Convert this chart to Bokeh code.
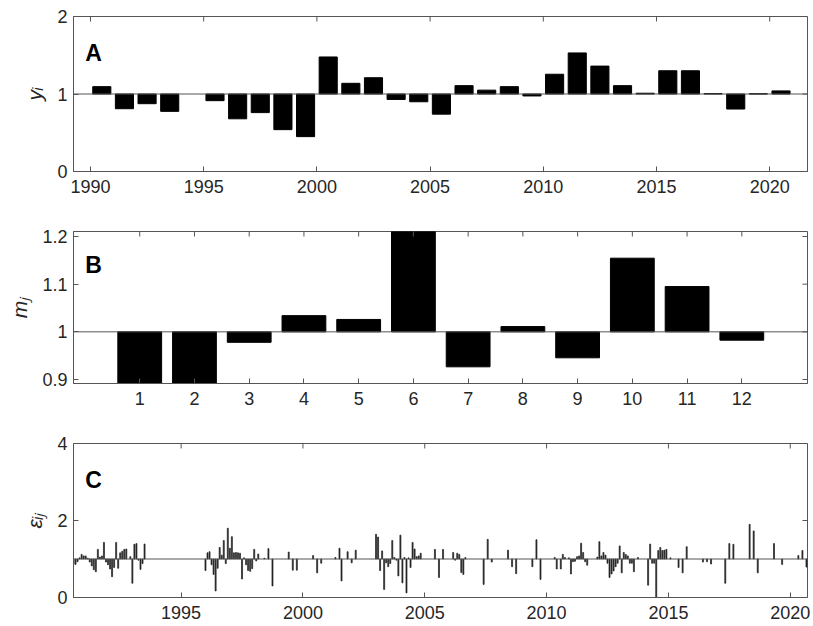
import math
from bokeh.plotting import figure
from bokeh.layouts import column
from bokeh.models import Range1d, FixedTicker, Span, Label, ColumnDataSource
from bokeh.embed import file_html
from bokeh.resources import INLINE

# ---------------- data ----------------
years = list(range(1990, 2021))
y_i = [1.095, 0.81, 0.875, 0.776, None, 0.914, 0.68, 0.76, 0.54, 0.45,
       1.478, 1.138, 1.21, 0.93, 0.90, 0.74, 1.108, 1.05, 1.095, 0.975,
       1.255, 1.53, 1.36, 1.108, 1.01, 1.30, 1.30, 1.005, 0.806, 1.003, 1.04]

months = list(range(1, 13))
m_j = [0.85, 0.86, 0.978, 1.034, 1.026, 1.25, 0.9266, 1.011, 0.9455, 1.1545, 1.095, 0.9825]

eps_first_year = 1990
eps_first_month = 8
eps_month_index = [0, 1, 2, 3, 4, 5, 6, 7, 8, 9, 10, 11, 12, 13, 14, 15, 16, 17, 18, 19,
                   20, 21, 22, 23, 24, 25, 26, 28, 29, 30, 31, 32, 33, 34, 35,
                   65, 66, 67, 68, 69, 70, 71, 72, 73, 74, 75, 76, 77, 78, 79, 80, 81, 82,
                   83, 84, 85, 86, 87, 88, 89, 90, 91, 94, 96, 98, 106, 108, 110, 118, 120,
                   122, 129, 131, 132, 135, 137, 139,
                   149, 150, 151, 152, 153, 154, 155, 156, 157, 158, 159, 160, 161, 162,
                   163, 164, 165, 166, 167, 168, 169, 170, 171, 178, 180, 182, 187, 188,
                   189, 190, 191, 192, 193, 202, 204, 206, 214, 216, 218, 226, 228, 230,
                   237, 238, 240, 241, 242, 244, 245, 246, 247, 248, 249, 250, 251, 252,
                   253, 258, 259, 260, 261, 262, 263, 264, 265, 266, 267, 268, 269, 270,
                   271, 272, 273, 274, 275, 276, 278, 283, 284, 285, 286, 287, 288, 289,
                   290, 291, 292, 294, 298, 300, 302, 310, 312, 314, 321, 323, 325, 333,
                   335, 337, 345, 349, 357, 359, 361]
eps_values = [0.86, 0.86, 0.93, 1.03, 1.12, 1.08, 1.08, 1.02, 0.92, 0.82, 0.72, 0.67, 1.25,
              1.05, 1.08, 1.43, 0.92, 0.85, 0.74, 0.54, 0.78, 1.43, 0.76, 1.16, 1.20, 1.25,
              1.26, 1.06, 0.37, 1.38, 1.40, 0.97, 0.73, 0.88, 1.39,
              0.70, 1.16, 1.19, 0.85, 0.60, 0.17, 0.76, 1.30, 1.10, 1.48, 0.88, 1.80, 1.28,
              1.58, 1.16, 1.17, 1.16, 1.15, 0.48, 1.03, 0.85, 0.70, 0.68, 0.75, 1.25, 0.95,
              1.13, 1.02, 1.27, 0.30, 1.18, 0.71, 0.71, 1.09, 0.64, 0.89, 1.04, 1.28, 0.43,
              1.19, 0.90, 1.23,
              1.64, 1.57, 0.70, 1.21, 0.21, 0.90, 0.80, 0.88, 1.48, 1.04, 0.97, 0.56, 1.62,
              0.38, 1.04, 0.12, 1.03, 0.78, 1.43, 1.26, 1.06, 1.08, 1.15, 1.25, 0.52, 1.25,
              1.17, 0.97, 1.15, 1.12, 0.65, 0.60, 1.04, 0.34, 1.51, 0.92, 1.23, 0.80, 0.62,
              0.80, 1.50, 0.47, 1.04, 0.74, 0.74, 1.12, 1.04, 1.03, 0.61, 0.93, 0.94, 1.06,
              1.08, 1.41, 1.17, 0.93, 0.84, 1.05, 1.45, 1.08, 1.17, 1.10, 0.89, 0.52, 0.61,
              0.69, 0.80, 0.89, 1.34, 0.64, 1.17, 1.12, 1.08, 0.89, 0.89, 0.67, 1.04, 0.32,
              1.39, 0.89, 0.89, 0.0, 1.22, 1.30, 1.22, 1.23, 1.25, 1.03, 0.78, 0.64, 1.32,
              0.92, 0.93, 0.87, 0.37, 1.40, 1.38, 1.90, 1.73, 0.64, 1.40, 0.86, 1.09, 1.22,
              0.79]
eps_n_months = 362

A_yticks = [0, 1, 2]
A_xticks = [1990, 1995, 2000, 2005, 2010, 2015, 2020]
B_yticks = [0.9, 1.0, 1.1, 1.2]
C_yticks = [0, 2, 4]
C_xticks = [1995, 2000, 2005, 2010, 2015, 2020]

# ---------------- styling ----------------
FONT = "Liberation Sans"
AX = "#262626"
LINE = "#555555"
W = 813


def make_fig(xr, yr, height, top, bottom):
    p = figure(width=W, height=height, x_range=xr, y_range=yr,
               output_backend="svg", toolbar_location=None,
               min_border_left=73, min_border_right=6,
               min_border_top=top, min_border_bottom=bottom)
    p.grid.grid_line_color = None
    p.outline_line_color = LINE
    p.outline_line_width = 1
    p.background_fill_color = "white"
    p.border_fill_color = "white"
    return p


def style_axis(ax, ticks, standoff):
    ax.ticker = FixedTicker(ticks=ticks)
    ax.major_tick_in = 5
    ax.major_tick_out = 0
    ax.minor_tick_line_color = None
    ax.major_tick_line_color = LINE
    ax.axis_line_color = LINE
    ax.major_label_text_font = FONT
    ax.major_label_text_font_size = "18px"
    ax.major_label_text_color = AX
    ax.major_label_standoff = standoff


def add_box_ticks(p, xticks, yticks):
    # ticks on the top and right frame edges: dashes centred on the edge,
    # the outer half is clipped by the frame
    p.scatter(x=xticks, y=[p.y_range.end] * len(xticks), marker="dash", size=10,
              angle=math.pi / 2, line_color=LINE, line_width=1)
    p.scatter(x=[p.x_range.end] * len(yticks), y=yticks, marker="dash", size=10,
              line_color=LINE, line_width=1)


def ylabel(p, text):
    p.yaxis[0].axis_label = text
    p.yaxis[0].axis_label_text_font = FONT
    p.yaxis[0].axis_label_text_font_size = "21px"
    p.yaxis[0].axis_label_text_font_style = "italic"
    p.yaxis[0].axis_label_text_color = AX
    p.yaxis[0].axis_label_standoff = 8


def panel_letter(p, text, fx, fy):
    xr, yr = p.x_range, p.y_range
    p.add_layout(Label(x=xr.start + fx * (xr.end - xr.start),
                       y=yr.start + fy * (yr.end - yr.start),
                       text=text, text_font=FONT, text_font_size="23px",
                       text_font_style="bold", text_color="black",
                       text_baseline="alphabetic", text_align="left"))


# ---------------- panel A ----------------
srcA = ColumnDataSource(dict(x=[y + 0.5 for y in years],
                             top=[float("nan") if v is None else v for v in y_i]))
pA = make_fig(Range1d(1989.25, 2021.67), Range1d(0, 2), 200, 16, 29)
pA.vbar(x="x", top="top", bottom=1, width=0.8, source=srcA,
        fill_color="black", line_color="black", line_width=1)
pA.add_layout(Span(location=1, dimension="width", line_color=LINE, line_width=1))
style_axis(pA.xaxis[0], A_xticks, 8)
style_axis(pA.yaxis[0], A_yticks, 6)
add_box_ticks(pA, A_xticks, A_yticks)
ylabel(pA, "yᵢ")
panel_letter(pA, "A", 0.016, 0.767)

# ---------------- panel B ----------------
srcB = ColumnDataSource(dict(x=months, top=m_j))
pB = make_fig(Range1d(-0.21, 13.2), Range1d(0.8916, 1.2105), 215, 31, 32)
pB.vbar(x="x", top="top", bottom=1, width=0.8, source=srcB,
        fill_color="black", line_color="black", line_width=1)
pB.add_layout(Span(location=1, dimension="width", line_color=LINE, line_width=1))
style_axis(pB.xaxis[0], months, 8)
style_axis(pB.yaxis[0], B_yticks, 6)
pB.yaxis[0].major_label_overrides = {0.9: "0.9", 1.0: "1", 1.1: "1.1", 1.2: "1.2"}
add_box_ticks(pB, months, B_yticks)
ylabel(pB, "mⱼ")
panel_letter(pB, "B", 0.016, 0.777)

# ---------------- panel C ----------------
t0 = eps_first_year + (eps_first_month - 1) / 12.0
srcC = ColumnDataSource(dict(x=[t0 + m / 12.0 for m in eps_month_index], top=eps_values))
pC = make_fig(Range1d(t0, t0 + (eps_n_months - 0.5) / 12.0), Range1d(0, 4), 211, 28, 29)
pC.vbar(x="x", top="top", bottom=1, width=0.5 / 12.0, source=srcC,
        fill_color="#222222", line_color="#222222", line_width=0.7)
pC.add_layout(Span(location=1, dimension="width", line_color=LINE, line_width=1))
style_axis(pC.xaxis[0], C_xticks, 8)
style_axis(pC.yaxis[0], C_yticks, 6)
add_box_ticks(pC, C_xticks, C_yticks)
ylabel(pC, "εᵢⱼ")
panel_letter(pC, "C", 0.016, 0.766)

layout = column(pA, pB, pC, spacing=0)
open("out.html", "w").write(file_html(layout, INLINE))
